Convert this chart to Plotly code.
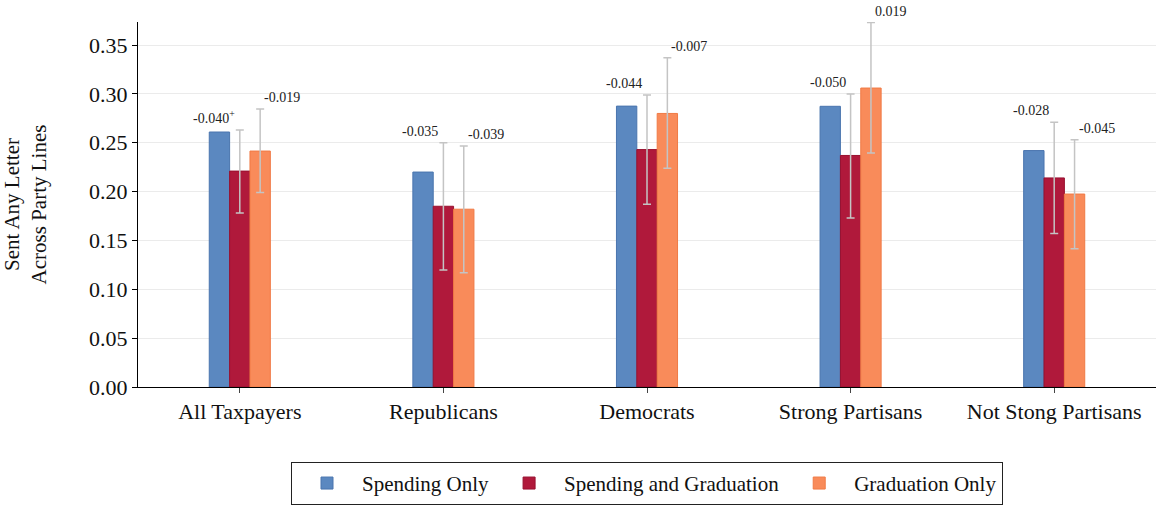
import plotly.graph_objects as go

groups = ["All Taxpayers", "Republicans", "Democrats", "Strong Partisans", "Not Stong Partisans"]

spending_only = [0.261, 0.220, 0.2875, 0.2873, 0.242]
spending_grad = [0.221, 0.185, 0.243, 0.237, 0.214]
grad_only = [0.2415, 0.182, 0.280, 0.306, 0.1975]

# 95% interval bounds for the two treatment arms
sg_upper = [0.263, 0.250, 0.299, 0.300, 0.271]
sg_lower = [0.178, 0.1197, 0.187, 0.173, 0.157]
go_upper = [0.2845, 0.2466, 0.337, 0.373, 0.253]
go_lower = [0.199, 0.117, 0.2238, 0.2395, 0.1415]

# differences relative to spending only
sg_diff_labels = ["-0.040<sup>+</sup>", "-0.035", "-0.044", "-0.050", "-0.028"]
go_diff_labels = ["-0.019", "-0.039", "-0.007", "0.019", "-0.045"]

blue = "#5B88C0"
red = "#B0193B"
orange = "#F98B5A"
err_color = "#C4C4C4"
font_family = "Liberation Serif, DejaVu Serif, serif"

fig = go.Figure()

fig.add_trace(go.Bar(
    x=groups, y=spending_only, name="Spending Only",
    marker=dict(color=blue, line=dict(color="#4A75AE", width=1)),
))
fig.add_trace(go.Bar(
    x=groups, y=spending_grad, name="Spending and Graduation",
    marker=dict(color=red, line=dict(color="#98102F", width=1)),
    error_y=dict(
        type="data", symmetric=False,
        array=[u - v for u, v in zip(sg_upper, spending_grad)],
        arrayminus=[v - l for v, l in zip(spending_grad, sg_lower)],
        color=err_color, thickness=1.5, width=4,
    ),
))
fig.add_trace(go.Bar(
    x=groups, y=grad_only, name="Graduation Only",
    marker=dict(color=orange, line=dict(color="#F07A45", width=1)),
    error_y=dict(
        type="data", symmetric=False,
        array=[u - v for u, v in zip(go_upper, grad_only)],
        arrayminus=[v - l for v, l in zip(grad_only, go_lower)],
        color=err_color, thickness=1.5, width=4,
    ),
))

# difference labels placed at the top of each interval
bar_w = 0.1
for i, g in enumerate(groups):
    fig.add_annotation(
        x=i, y=sg_upper[i], xref="x", yref="y",
        text=sg_diff_labels[i], showarrow=False,
        xanchor="right", yanchor="bottom", xshift=-3, yshift=2,
        font=dict(family=font_family, size=14, color="#222"),
    )
    fig.add_annotation(
        x=i + bar_w, y=go_upper[i], xref="x", yref="y",
        text=go_diff_labels[i], showarrow=False,
        xanchor="left", yanchor="bottom", xshift=2, yshift=2,
        font=dict(family=font_family, size=14, color="#222"),
    )

fig.update_layout(
    width=1158, height=507,
    barmode="group", bargap=0.7, bargroupgap=0,
    plot_bgcolor="white", paper_bgcolor="white",
    margin=dict(l=138, r=2, t=22, b=120),
    font=dict(family=font_family, size=22, color="#111"),
    showlegend=True,
    legend=dict(
        orientation="h", x=0.5, xanchor="center", y=-0.323, yanchor="bottom",
        bordercolor="#222", borderwidth=1, font=dict(size=21),
        itemwidth=60, traceorder="normal", tracegroupgap=0,
    ),
    xaxis=dict(
        range=[-0.5, 4.5], showline=True, linecolor="black", linewidth=1,
        ticks="outside", ticklen=5, tickcolor="#444", showgrid=False,
        tickfont=dict(size=22),
    ),
    yaxis=dict(
        range=[0, 0.3736], showline=True, linecolor="black", linewidth=1,
        ticks="outside", ticklen=5, tickcolor="black",
        tickvals=[0, 0.05, 0.1, 0.15, 0.2, 0.25, 0.3, 0.35],
        tickformat=".2f", showgrid=True, gridcolor="#EBEBEB", gridwidth=1,
        zeroline=False, tickfont=dict(size=22),
        title=dict(text="Sent Any Letter<br>Across Party Lines", font=dict(size=21), standoff=38),
    ),
)

fig.write_html("out.html")
